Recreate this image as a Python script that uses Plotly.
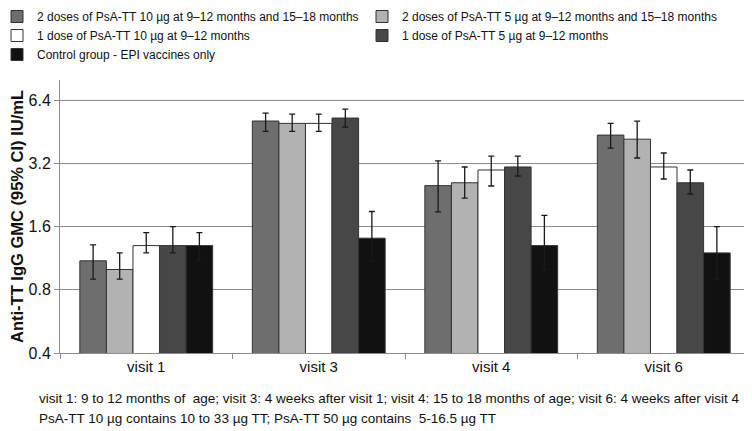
import plotly.graph_objects as go

visits = ['visit 1', 'visit 3', 'visit 4', 'visit 6']

series_names = [
    '2 doses of PsA-TT 10 µg at 9–12 months and 15–18 months',
    '2 doses of PsA-TT 5 µg at 9–12 months and 15–18 months',
    '1 dose of PsA-TT 10 µg at 9–12 months',
    '1 dose of PsA-TT 5 µg at 9–12 months',
    'Control group - EPI vaccines only',
]

# GMC values per series (visit 1, 3, 4, 6)
gmc_2d_10 = [1.10, 5.10, 2.51, 4.37]
gmc_2d_5 = [1.00, 4.97, 2.59, 4.18]
gmc_1d_10 = [1.30, 4.97, 2.98, 3.08]
gmc_1d_5 = [1.30, 5.27, 3.08, 2.59]
gmc_ctrl = [1.30, 1.41, 1.30, 1.20]

# 95% CI upper / lower
ci_hi_2d_10 = [1.31, 5.56, 3.29, 4.97]
ci_lo_2d_10 = [0.90, 4.55, 1.88, 3.79]
ci_hi_2d_5 = [1.20, 5.50, 3.08, 5.10]
ci_lo_2d_5 = [0.90, 4.55, 2.19, 3.40]
ci_hi_1d_10 = [1.50, 5.50, 3.47, 3.59]
ci_lo_1d_10 = [1.20, 4.55, 2.50, 2.70]
ci_hi_1d_5 = [1.60, 5.81, 3.47, 2.98]
ci_lo_1d_5 = [1.20, 4.77, 2.79, 2.29]
ci_hi_ctrl = [1.50, 1.89, 1.81, 1.60]
ci_lo_ctrl = [1.10, 1.10, 1.00, 0.90]

tick_vals = [0.4, 0.8, 1.6, 3.2, 6.4]

groups = [
    (gmc_2d_10, ci_hi_2d_10, ci_lo_2d_10, '#6e6e6e'),
    (gmc_2d_5, ci_hi_2d_5, ci_lo_2d_5, '#b2b2b2'),
    (gmc_1d_10, ci_hi_1d_10, ci_lo_1d_10, '#ffffff'),
    (gmc_1d_5, ci_hi_1d_5, ci_lo_1d_5, '#474747'),
    (gmc_ctrl, ci_hi_ctrl, ci_lo_ctrl, '#111111'),
]

fig = go.Figure()
for name, (vals, hi, lo, col) in zip(series_names, groups):
    fig.add_trace(go.Bar(
        x=visits, y=vals, name=name,
        marker=dict(color=col, line=dict(color='#333333', width=1)),
        error_y=dict(type='data', symmetric=False,
                     array=[h - v for h, v in zip(hi, vals)],
                     arrayminus=[v - l for v, l in zip(vals, lo)],
                     color='#1a1a1a', thickness=1.3, width=3),
    ))

# page body has an 8px margin, so the figure is 8px smaller to fit the window
fig.update_layout(
    width=744, height=423,
    barmode='group', bargap=0.23, bargroupgap=0,
    plot_bgcolor='white', paper_bgcolor='white',
    font=dict(family='Liberation Sans, Arial', color='#111111'),
    margin=dict(l=52, r=2, t=72, b=78, autoexpand=False),
    legend=dict(orientation='h', x=-0.0913, y=1.2857,
                xanchor='left', yanchor='top', bgcolor='rgba(0,0,0,0)',
                entrywidth=320, entrywidthmode='pixels',
                font=dict(size=12), itemwidth=30, tracegroupgap=0, traceorder='normal'),
    yaxis=dict(type='log', range=[-0.39794, 0.90309], automargin=False,
               tickvals=tick_vals, ticktext=[str(v) for v in tick_vals],
               showgrid=True, gridcolor='#8c8c8c', gridwidth=1,
               showline=True, linecolor='#8c8c8c', ticks='outside', ticklen=5,
               tickcolor='#8c8c8c', tickfont=dict(size=16),
               zeroline=False,
               title=dict(text='<b>Anti-TT IgG GMC (95% CI) IU/mL</b>', standoff=6,
                          font=dict(size=16.5))),
    xaxis=dict(showline=True, linecolor='#8c8c8c', ticks='outside', ticklen=5,
               tickcolor='#8c8c8c', tickson='boundaries', automargin=False,
               tickfont=dict(size=15)),
)

fig.add_annotation(
    text='visit 1: 9 to 12 months of  age; visit 3: 4 weeks after visit 1; visit 4: 15 to 18 months of age; visit 6: 4 weeks after visit 4',
    xref='paper', yref='paper', x=-0.033, y=-0.166, xanchor='left', yanchor='middle',
    showarrow=False, font=dict(size=13.5))
fig.add_annotation(
    text='PsA-TT 10 µg contains 10 to 33 µg TT; PsA-TT 50 µg contains  5-16.5 µg TT',
    xref='paper', yref='paper', x=-0.033, y=-0.239, xanchor='left', yanchor='middle',
    showarrow=False, font=dict(size=13.5))

fig.write_html('out.html')
